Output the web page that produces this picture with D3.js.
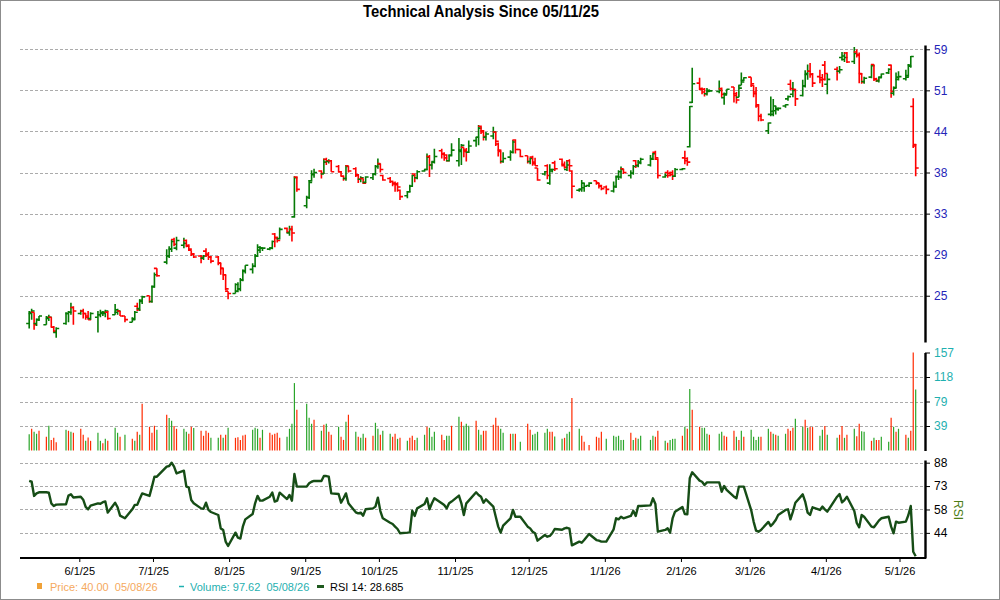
<!DOCTYPE html>
<html>
<head>
<meta charset="utf-8">
<script src="https://cdn.jsdelivr.net/npm/d3@7"></script>
<style>
  body { margin: 0; background: #fff; }
  svg { display: block; font-family: "Liberation Sans", Arial, sans-serif; }
</style>
</head>
<body>
<svg id="chart" width="1000" height="600"></svg>
<script>
// trading calendar 05/12/25 .. 05/08/26 (weekdays minus exchange holidays)
const firstDay = "2025-05-12", lastDay = "2026-05-08";
const holidays = ["2025-05-26","2025-06-19","2025-07-04","2025-09-01","2025-11-27",
  "2025-12-25","2026-01-01","2026-01-19","2026-02-16","2026-04-03"];
const monthTicks = ["2025-06-01","2025-07-01","2025-08-01","2025-09-01","2025-10-01","2025-11-01",
  "2025-12-01","2026-01-01","2026-02-01","2026-03-01","2026-04-01","2026-05-01"];

// OHLC, one value per trading day
const opens = [
  22.7,23.5,23.6,22.7,23.0,22.6,23.1,23.2,22.4,22.0,22.7,23.5,23.6,24.0,
  23.5,23.7,23.5,23.3,23.1,23.2,23.4,23.5,23.5,23.6,23.4,23.6,23.7,23.3,22.8,23.1,24.1,23.9,24.6,25.0,
  24.5,25.8,27.5,28.1,28.7,29.4,30.4,29.5,29.8,30.3,29.8,29.3,28.9,28.7,28.5,29.2,28.9,28.6,28.6,28.0,27.5,26.9,
  25.4,25.2,25.4,25.6,26.4,27.3,27.4,27.7,28.7,29.3,29.5,29.4,29.5,31.0,30.6,30.5,31.6,31.1,31.5,32.9,37.8,
  34.2,35.2,37.3,38.2,38.6,38.2,40.2,39.9,40.0,39.2,38.5,37.9,37.6,39.3,38.9,38.0,37.5,37.6,37.1,37.7,38.2,
  39.2,39.6,38.0,37.6,37.2,37.0,36.9,36.1,35.4,35.9,36.6,38.2,37.7,38.6,38.8,40.6,39.4,39.9,41.4,41.0,40.8,40.0,40.7,
  40.0,41.5,41.9,41.5,41.2,42.9,43.4,45.1,44.4,43.4,43.6,44.2,42.4,41.5,39.9,40.5,41.2,43.0,41.6,
  40.7,39.9,40.5,39.8,39.0,38.2,39.3,37.0,38.6,39.7,40.2,39.5,38.8,40.0,38.6,36.1,36.2,36.4,36.7,37.3,37.0,36.7,
  36.5,36.0,36.6,37.8,37.8,38.9,38.0,38.3,40.0,39.3,39.8,39.4,40.3,41.2,40.2,37.8,38.4,38.3,38.4,37.9,
  38.8,40.4,40.3,42.0,49.0,52.4,51.4,51.3,50.5,50.9,50.9,51.4,49.8,50.5,51.7,50.5,49.9,52.0,52.9,
  53.5,52.0,50.8,48.4,46.7,44.4,47.0,47.0,47.6,47.8,48.4,49.6,52.2,50.4,51.3,50.2,51.9,54.0,54.6,54.0,53.6,53.4,
  55.8,52.2,55.0,54.6,57.3,56.9,58.2,56.5,58.4,57.9,54.2,52.7,53.5,55.9,53.2,52.8,53.5,54.3,55.8,50.6,51.6,
  53.1,53.2,53.8,55.8,48.3,42.1
];
const highs = [
  23.7,23.9,23.6,23.1,23.3,23.3,23.4,23.2,22.5,22.4,23.6,23.7,24.4,24.1,
  23.8,23.9,23.5,23.7,23.6,23.7,23.8,23.7,23.8,23.7,24.3,23.9,23.7,23.3,23.2,23.7,24.4,24.7,25.0,25.0,
  25.9,27.1,27.5,29.4,29.7,30.4,30.6,30.7,30.6,30.4,29.9,29.3,29.0,28.8,28.8,29.5,29.1,28.7,28.7,28.0,27.5,26.9,
  25.4,26.1,26.2,26.6,27.4,27.8,28.0,28.9,29.9,29.7,29.6,29.6,30.3,31.1,30.7,31.7,31.7,31.9,31.9,37.9,37.9,
  35.4,37.4,38.7,38.9,38.7,40.3,40.4,40.2,40.1,39.4,38.6,38.0,39.4,39.3,39.1,38.2,37.9,37.6,37.9,38.3,39.4,
  40.3,39.6,38.1,37.8,37.3,37.2,37.1,36.2,36.0,36.8,38.1,38.3,38.7,38.8,41.0,40.8,39.9,41.7,41.7,41.2,40.9,40.9,42.5,
  43.3,42.4,41.9,41.8,42.9,43.4,45.3,45.2,44.5,44.2,45.0,44.3,42.6,41.6,41.2,41.5,43.0,43.1,41.6,
  40.7,40.4,40.7,40.4,39.0,38.6,39.5,39.5,38.9,40.0,40.3,39.9,40.1,40.2,38.7,36.3,37.4,37.0,37.1,37.3,37.0,36.8,
  36.7,37.2,38.0,38.7,39.2,38.9,38.7,39.4,40.1,40.1,40.4,40.8,41.1,41.4,40.3,38.3,38.7,38.5,38.7,39.0,
  39.0,41.4,40.5,48.4,55.3,53.4,51.6,51.5,51.5,51.2,52.9,51.6,50.7,51.3,51.7,50.8,52.0,54.4,53.5,
  53.5,52.0,51.7,48.7,47.1,45.7,50.0,49.6,48.4,48.1,48.7,50.2,53.0,52.6,51.4,53.0,54.8,55.9,56.2,54.3,54.9,54.1,
  56.6,54.1,55.5,55.6,58.4,58.4,58.4,59.4,58.9,58.3,54.3,53.6,55.9,55.9,53.4,53.6,54.2,55.2,55.9,51.8,54.4,
  54.6,54.9,56.0,57.6,49.7,42.4
];
const lows = [
  22.3,23.0,22.2,22.5,22.9,22.6,22.9,22.4,22.0,21.6,22.6,22.8,23.4,22.6,
  23.4,23.1,23.0,23.0,23.0,22.0,23.2,23.3,23.2,23.0,23.4,23.4,23.3,22.8,22.8,23.0,23.7,23.7,24.3,24.4,
  24.4,25.7,26.7,27.9,28.5,29.1,29.7,29.3,29.5,29.6,29.2,28.7,28.5,28.0,28.3,28.6,28.3,28.0,27.8,26.9,26.4,25.5,
  24.7,25.2,25.3,25.4,26.3,27.0,27.0,27.6,28.6,29.0,29.2,29.3,29.4,29.6,30.1,30.4,31.1,30.8,30.2,32.8,35.9,
  33.9,35.0,37.2,37.7,37.6,38.2,39.4,39.6,38.5,38.4,37.9,37.3,37.3,38.4,37.8,37.0,37.1,36.9,37.0,37.4,38.0,
  38.9,38.4,37.3,37.0,36.6,35.9,35.9,34.9,35.1,35.8,36.5,37.1,37.5,38.5,38.7,37.8,38.8,39.6,40.3,40.0,39.9,39.9,40.6,
  39.2,39.4,40.5,39.9,41.1,42.0,42.2,43.9,42.9,42.9,43.1,42.1,40.6,39.6,39.7,40.0,41.0,41.0,40.5,
  39.6,39.5,39.3,39.3,37.3,38.0,37.5,36.8,38.4,38.6,39.2,38.9,38.6,38.6,35.1,35.9,35.9,35.9,36.5,36.8,36.3,36.1,
  35.6,35.8,36.4,37.4,37.6,38.2,37.6,38.1,39.0,39.1,39.5,39.2,40.1,40.1,37.6,37.7,37.7,37.9,37.4,37.8,
  38.7,39.5,39.3,41.9,48.9,51.1,50.4,50.0,50.2,50.8,50.6,49.9,48.6,50.4,49.0,48.8,49.9,52.0,52.8,
  51.7,49.9,48.1,45.9,45.9,43.9,46.7,46.7,47.0,47.6,48.1,49.3,51.1,49.9,48.4,50.0,51.6,53.0,53.4,51.7,52.4,51.7,
  52.9,50.4,52.9,54.2,56.7,56.4,56.2,56.0,57.3,52.4,52.3,52.3,53.3,52.8,52.6,52.5,53.4,54.1,49.8,50.2,51.5,
  52.9,52.9,53.6,55.3,41.8,37.9
];
const closes = [
  23.6,23.7,22.6,23.0,23.3,23.2,23.2,22.4,22.1,22.3,23.5,23.6,24.0,23.7,
  23.7,23.5,23.2,23.0,23.5,23.4,23.6,23.6,23.7,23.1,23.8,23.7,23.3,23.0,23.0,23.6,23.8,24.5,24.9,24.5,
  25.8,26.9,26.8,28.7,29.4,30.2,29.9,30.3,30.0,29.7,29.4,28.9,28.6,28.6,28.7,28.8,28.6,28.2,28.0,27.5,26.9,25.6,
  25.2,26.0,25.6,26.4,27.2,27.8,27.7,28.7,29.6,29.5,29.5,29.5,30.2,30.6,30.3,31.5,31.2,31.5,31.1,37.7,36.2,
  35.2,37.1,38.1,38.4,38.3,39.8,40.0,40.0,38.5,38.5,37.9,37.6,39.2,38.6,38.1,37.5,37.7,37.0,37.8,38.2,39.2,
  39.5,38.8,37.4,37.2,36.9,36.8,36.5,35.3,35.9,36.6,38.0,37.7,38.5,38.8,40.5,39.4,39.8,40.6,40.9,40.4,40.0,40.8,41.5,
  41.3,42.2,41.3,41.2,42.1,43.4,44.8,44.2,43.5,43.9,44.2,42.8,41.3,39.9,40.3,41.2,42.7,41.6,40.6,
  39.9,40.3,39.6,39.3,37.4,38.5,38.0,38.8,38.8,38.9,39.3,39.1,39.4,39.3,36.6,36.2,37.0,36.6,37.0,37.0,36.6,36.3,
  36.2,36.5,37.9,38.5,38.8,38.4,38.3,39.2,39.4,39.7,40.2,40.2,41.0,40.4,38.0,38.0,38.0,38.1,37.9,38.8,
  38.9,40.0,39.8,48.3,52.3,51.3,50.8,50.5,51.1,51.0,51.1,50.4,50.3,51.3,50.2,49.4,51.5,52.6,53.4,
  52.3,50.5,48.6,46.7,46.1,45.6,47.5,48.4,48.0,48.0,48.6,50.0,51.4,51.1,49.6,51.9,54.2,54.6,54.1,52.4,53.0,53.1,
  54.2,53.1,54.6,54.9,57.6,57.3,56.4,58.1,57.7,54.1,52.6,53.3,55.7,53.1,52.9,53.4,54.1,55.0,50.9,51.5,53.5,
  53.6,53.5,55.6,57.5,42.3,39.0
];
const volumes = [
  26.2,34.8,30,26.8,31.6,22,39.6,17,20.3,13.4,33.2,31.6,30,28.4,
  34.8,25.2,15.5,20.9,15.5,28.4,15.5,11.8,18.7,15.5,36.4,28.4,22,25.2,18.7,15.5,30,25.2,75,38,
  28.4,39.6,33.2,57.3,52,47.7,39.1,34.8,34.8,30,26.8,38,35.9,31.6,23.6,31.6,28.4,20.3,20.3,25.2,20.3,25.2,
  36.4,20.3,21.4,17,24.1,25.2,33.2,36.4,34.8,20.3,33.2,28.4,25.2,26.8,28.4,20.3,22,34.8,42.8,108,65.3,
  75,52.5,42.8,49.3,31.6,41.2,42.8,30,25.2,38,22,17,46,57.3,30,22,20.3,26.8,20.3,23.6,44.4,
  34.8,25.2,31.6,26.8,22,26.8,18.7,20.3,15.5,20.3,23.6,17,20.3,25.2,38,36.4,22,30,25.2,17,23.6,23.6,39.6,
  54,46,39.6,42.8,39.6,47.7,33.2,25.2,31.6,31.6,41.2,52.5,39.6,34.8,28.4,26.8,26.8,26.8,13.9,
  42.8,33.2,25.2,26.8,30,28.4,34.8,30,30,22.5,18.7,20.3,26.8,30,84.1,34.8,23.6,13.9,9,22,20.3,30,
  18.7,23.6,22,23.6,17,17,28.4,17,20.3,18.7,23.6,17,23.6,22,31.6,15.5,12.3,17,18.7,18.7,
  23.6,38,34.8,98.5,65.3,38,36.4,36.4,26.8,25.2,26.8,30,23.6,22,31.6,22,17,31.6,22,
  33.2,22,17,22,22,34.8,30,26.8,25.2,23.6,26.8,34.8,31.6,36.4,50.9,38,49.3,36.4,38,37.5,23.6,33.2,
  39.1,25.2,20.3,25.2,39.1,20.3,25.2,34.8,23,42.8,31,30,15.5,20.3,17,17,22,13.9,52.5,38,30,
  34.8,25.2,20.3,31.6,157,97.62
];
// 1 = green volume bar, 0 = red
const volumeUp = [
  1,0,1,1,0,0,1,0,0,0,1,0,1,0,
  0,0,1,0,0,1,1,0,1,0,1,1,0,1,0,1,0,1,0,0,
  0,0,1,0,1,1,0,0,1,1,0,0,1,0,0,0,0,1,1,0,1,0,
  1,0,0,0,0,0,1,1,1,0,1,0,0,0,0,0,1,1,1,1,0,
  1,1,1,0,1,0,1,0,0,1,0,0,1,0,1,0,1,1,0,0,1,
  1,0,1,1,0,0,1,0,1,0,0,0,1,1,0,1,1,1,0,0,1,1,0,
  1,0,1,1,1,0,1,1,0,0,0,0,0,1,1,0,1,0,1,
  0,0,1,1,1,1,1,0,0,1,1,0,1,1,0,1,0,0,0,0,0,0,
  1,1,1,1,1,1,0,1,0,1,1,1,1,0,0,1,0,1,1,1,
  0,1,0,1,0,0,1,1,1,0,1,1,0,0,0,1,0,1,0,
  1,1,1,1,0,1,0,1,0,1,1,0,0,0,1,1,0,1,0,0,1,1,
  0,1,1,0,0,1,0,1,0,0,1,1,0,1,0,0,1,1,0,1,0,
  1,0,1,0,0,1
];
const rsi = [
  76.5,76.0,67.0,68.6,69.3,69.3,69.0,62.3,60.6,61.5,61.7,67.2,68.0,66.0,
  66.5,64.6,60.0,58.5,60.8,62.3,62.0,63.0,63.5,56.4,62.7,59.8,54.5,52.8,58.5,61.3,61.3,65.0,68.6,67.0,
  72.9,79.2,79.2,85.6,86.0,88.1,85.6,81.3,83.0,72.9,72.4,64.4,62.3,59.1,58.9,62.7,58.1,56.8,54.9,46.4,45.4,38.0,
  35.2,43.7,40.5,39.9,47.5,52.1,55.5,62.3,67.0,64.0,64.0,66.5,69.1,63.4,64.0,69.1,65.0,67.6,64.0,80.9,72.9,
  72.9,75.0,76.0,76.5,76.5,79.6,79.6,79.2,68.6,68.2,62.7,65.5,68.6,62.3,56.6,55.9,56.4,54.5,58.5,59.1,60.2,
  65.9,57.4,52.8,50.0,49.2,47.5,46.0,43.3,43.7,43.9,57.6,54.3,59.1,61.9,65.5,58.5,62.3,65.5,62.3,61.2,59.1,62.3,63.4,
  67.2,62.3,54.9,62.3,64.0,69.3,67.6,66.5,62.7,64.8,60.2,53.8,47.5,43.7,48.1,52.8,58.1,53.8,53.8,
  47.5,46.4,44.3,43.3,38.6,42.2,41.1,41.6,43.3,46.0,45.5,46.4,46.8,46.2,35.6,38.0,37.3,39.0,42.8,39.0,38.6,38.0,
  38.0,45.8,52.8,52.1,53.8,52.8,54.3,57.6,54.3,60.6,60.6,61.0,65.5,61.9,44.3,45.4,46.4,43.7,52.7,57.0,
  60.0,55.5,55.3,78.2,82.0,76.7,76.0,73.9,75.6,75.6,75.6,69.7,73.3,70.8,66.5,65.5,72.9,72.9,72.9,
  58.0,50.7,45.0,44.3,45.4,50.5,47.9,49.6,51.7,54.9,58.1,58.5,52.1,57.0,62.7,68.0,63.4,56.4,54.9,59.8,58.1,60.2,
  58.5,57.0,66.5,68.2,62.9,64.4,66.5,57.4,49.8,47.1,54.9,53.8,47.5,47.1,49.2,51.3,52.8,53.8,47.5,43.3,50.7,
  50.0,50.7,54.7,60.6,31.6,28.685
];

// axis tick values as placed on the right-hand scales
const priceTicks = [25.0, 28.84, 33.27, 38.39, 44.29, 51.1, 58.95];
const priceMinor = [35.9, 41.5, 47.9, 54.3, 57.0];
const volumeTicks = [39.25, 78.5, 117.75, 157];
const rsiTicks = [43.55, 58.4, 73.25, 88.1];

const parse = d3.utcParse("%Y-%m-%d");
const iso = d3.utcFormat("%Y-%m-%d");
const dates = d3.utcDay.range(parse(firstDay), d3.utcDay.offset(parse(lastDay), 1))
  .filter(d => d.getUTCDay() % 6 !== 0 && !holidays.includes(iso(d)));
const n = Math.min(dates.length, opens.length, highs.length, lows.length, closes.length, volumes.length, rsi.length);
if (n !== dates.length) console.error("length mismatch", dates.length, opens.length, highs.length, lows.length, closes.length, volumes.length, volumeUp.length, rsi.length);

const bars = d3.range(n).map(i => ({
  date: dates[i], o: opens[i], h: highs[i], l: lows[i], c: closes[i],
  v: volumes[i], vUp: volumeUp[i] === 1, r: rsi[i]
}));

const svg = d3.select("#chart");
const left = 20, right = 925;

const x = d3.scaleUtc()
  .domain([parse("2025-06-01"), parse("2026-05-01")])
  .range([79.3, 899.5]);
const bx = d => x(d) - 1;

const yPrice = d3.scaleLog().domain([21.28, 59.84]).range([342, 45]);
const yVol = d3.scaleLinear().domain([0, 157]).range([450.5, 352.5]);
const yRsi = d3.scaleLinear().domain([27.6, 89.8]).range([558, 460]);

// outer frame
svg.append("rect").attr("x", 0.5).attr("y", 0.5).attr("width", 999).attr("height", 599)
  .attr("fill", "#fff").attr("stroke", "#8c8c8c");

// title
svg.append("text")
  .attr("x", 481).attr("y", 17).attr("text-anchor", "middle")
  .attr("font-family", "'Liberation Sans Narrow', 'Arial Narrow', 'Liberation Sans', sans-serif")
  .attr("font-weight", "bold").attr("font-size", 16)
  .attr("textLength", 236).attr("lengthAdjust", "spacingAndGlyphs")
  .text("Technical Analysis Since 05/11/25");

// gridlines
function grid(scale, values) {
  svg.append("g").selectAll("line").data(values).join("line")
    .attr("x1", left).attr("x2", right)
    .attr("y1", d => Math.round(scale(d)) + 0.5)
    .attr("y2", d => Math.round(scale(d)) + 0.5)
    .attr("stroke", "#ababab")
    .attr("stroke-dasharray", "3,2");
}
grid(yPrice, priceTicks);
grid(yVol, volumeTicks.slice(0, 3));
grid(yRsi, rsiTicks);

// OHLC bars
svg.append("g").selectAll("path").data(bars).join("path")
  .attr("fill", "none")
  .attr("stroke", d => d.c >= d.o ? "#067a06" : "#ff0000")
  .attr("stroke-width", 1.6)
  .attr("d", d => {
    const cx = bx(d.date);
    return `M${cx},${yPrice(d.h)}V${yPrice(d.l)}` +
      `M${cx - 3},${yPrice(d.o)}H${cx}` +
      `M${cx},${yPrice(d.c)}H${cx + 3}`;
  });

// volume bars
svg.append("g").selectAll("line").data(bars).join("line")
  .attr("x1", d => bx(d.date)).attr("x2", d => bx(d.date))
  .attr("y1", yVol(0)).attr("y2", d => yVol(d.v))
  .attr("stroke", d => d.vUp ? "#2aa52a" : "#ff2a00")
  .attr("stroke-width", 1.2);

// RSI line
svg.append("path").datum(bars)
  .attr("fill", "none")
  .attr("stroke", "#164d16")
  .attr("stroke-width", 2.4)
  .attr("stroke-linejoin", "round")
  .attr("d", d3.line().x(d => bx(d.date)).y(d => yRsi(d.r)));

// right-hand axes
function rightAxis(scale, major, minor, color, fmt) {
  const g = svg.append("g").attr("transform", `translate(${right},0)`);
  g.call(d3.axisRight(scale).tickValues(minor).tickSize(3).tickSizeOuter(0).tickFormat(""));
  g.call(d3.axisRight(scale).tickValues(major).tickSize(5).tickSizeOuter(0).tickPadding(4).tickFormat(fmt));
  g.selectAll(".domain").attr("stroke", "#000").attr("stroke-width", 2.4);
  g.selectAll(".tick line").attr("stroke", "#000");
  g.selectAll(".tick text").attr("fill", color).attr("font-size", 12)
    .attr("font-family", "'Liberation Sans', Arial, sans-serif");
  return g;
}
rightAxis(yPrice, priceTicks, priceMinor, "#2424b8", d => Math.round(d));

const volMinor = d3.range(1, 12).map(i => i * 157 / 12);
rightAxis(yVol, volumeTicks, volMinor, "#1fb0b0", d => Math.round(d));

const rsiMinor = d3.range(-4, 13).map(i => 43.55 + i * 14.85 / 4).filter(v => v > 27.6 && v < 89.8);
rightAxis(yRsi, rsiTicks, rsiMinor, "#000", d => Math.round(d));

svg.append("text")
  .attr("transform", "translate(954,510) rotate(90)")
  .attr("text-anchor", "middle")
  .attr("font-size", 12)
  .attr("fill", "#4d7d15")
  .text("RSI");

// bottom time axis
const gx = svg.append("g").attr("transform", "translate(0,558)");
gx.call(d3.axisBottom(x).tickValues(monthTicks.map(parse)).tickSize(4).tickPadding(5)
  .tickFormat(d3.utcFormat("%-m/%-d/%y")));
gx.select(".domain").remove();
gx.selectAll(".tick text").attr("font-size", 11).attr("fill", "#000")
  .attr("font-family", "'Liberation Sans', Arial, sans-serif");
svg.append("line").attr("x1", left).attr("x2", right + 1).attr("y1", 558).attr("y2", 558)
  .attr("stroke", "#000").attr("stroke-width", 2.2);

// legend
const lg = svg.append("g").attr("font-size", 11);
lg.append("rect").attr("x", 37).attr("y", 583).attr("width", 5).attr("height", 6).attr("fill", "#f0a238");
lg.append("text").attr("x", 50).attr("y", 591).attr("fill", "#f5a95e")
  .attr("xml:space", "preserve").text("Price: 40.00  05/08/26");
lg.append("line").attr("x1", 179).attr("x2", 184).attr("y1", 586.5).attr("y2", 586.5)
  .attr("stroke", "#1fb0b0").attr("stroke-width", 1.5);
lg.append("text").attr("x", 190).attr("y", 591).attr("fill", "#1fb0b0")
  .attr("xml:space", "preserve").text("Volume: 97.62  05/08/26");
lg.append("line").attr("x1", 317).attr("x2", 324).attr("y1", 586.5).attr("y2", 586.5)
  .attr("stroke", "#1f5a1f").attr("stroke-width", 3);
lg.append("text").attr("x", 330).attr("y", 591).attr("fill", "#000").text("RSI 14: 28.685");
</script>
</body>
</html>
